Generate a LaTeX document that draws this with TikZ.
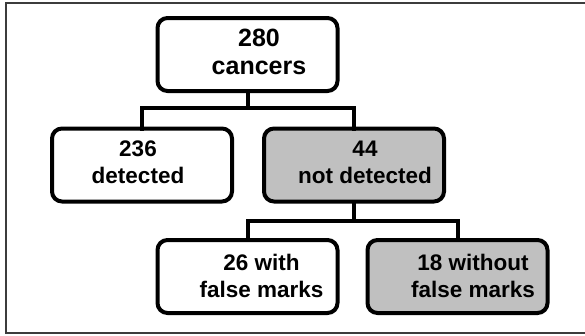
\documentclass[tikz,border=0pt]{standalone}
\usepackage{fontspec}
\setmainfont{Liberation Sans}
\begin{document}
\begin{tikzpicture}[x=1pt, y=-1pt,
  box/.style={draw=black, line width=4pt, rounded corners=10pt,
    minimum width=180pt, minimum height=73pt, inner sep=0pt, outer sep=0pt},
  miss/.style={box, fill=missgray},
  hit/.style={box, fill=white},
  lbl/.style={font=\fontsize{22.5}{27}\selectfont\bfseries, align=center, inner sep=0pt},
  rootlbl/.style={lbl, font=\fontsize{25}{28}\selectfont\bfseries},
  link/.style={line width=4pt, line cap=rect}]
\definecolor{missgray}{RGB}{192,192,192}
\definecolor{framegray}{RGB}{60,60,60}
\useasboundingbox (0,0) rectangle (585,335);
% outer frame (open at the right)
\draw[framegray, line width=1.3pt] (585,3) -- (6,3) -- (6,333) -- (585,333);

% boxes
\node[hit]  (all)  at (247.5,54.5)  {};
\node[hit]  (det)  at (142,165)     {};
\node[miss] (nod)  at (354,165)     {};
\node[hit]  (fm)   at (247.5,276.5) {};
\node[miss] (nfm)  at (457.5,276.5) {};

% labels
\node[rootlbl] (allt) at (259,52) {280\\cancers};
\node[lbl] (dett) at (138,162.5) {236\\detected};
\node[lbl] (nodt) at (365,162.5) {44\\not detected};
\node[lbl] (fmt)  at (261.5,275.5) {26 with\\false marks};
\node[lbl] (nfmt) at (473,275.5) {18 without\\false marks};

% tree connectors
\draw[link] (all.south) -- ++(0,17) coordinate (j1);
\draw[link] (j1) -| (det.north);
\draw[link] (j1) -| (nod.north);
\draw[link] (nod.south) -- ++(0,19) coordinate (j2);
\draw[link] (j2) -| (fm.north);
\draw[link] (j2) -| (nfm.north);
\end{tikzpicture}
\end{document}
